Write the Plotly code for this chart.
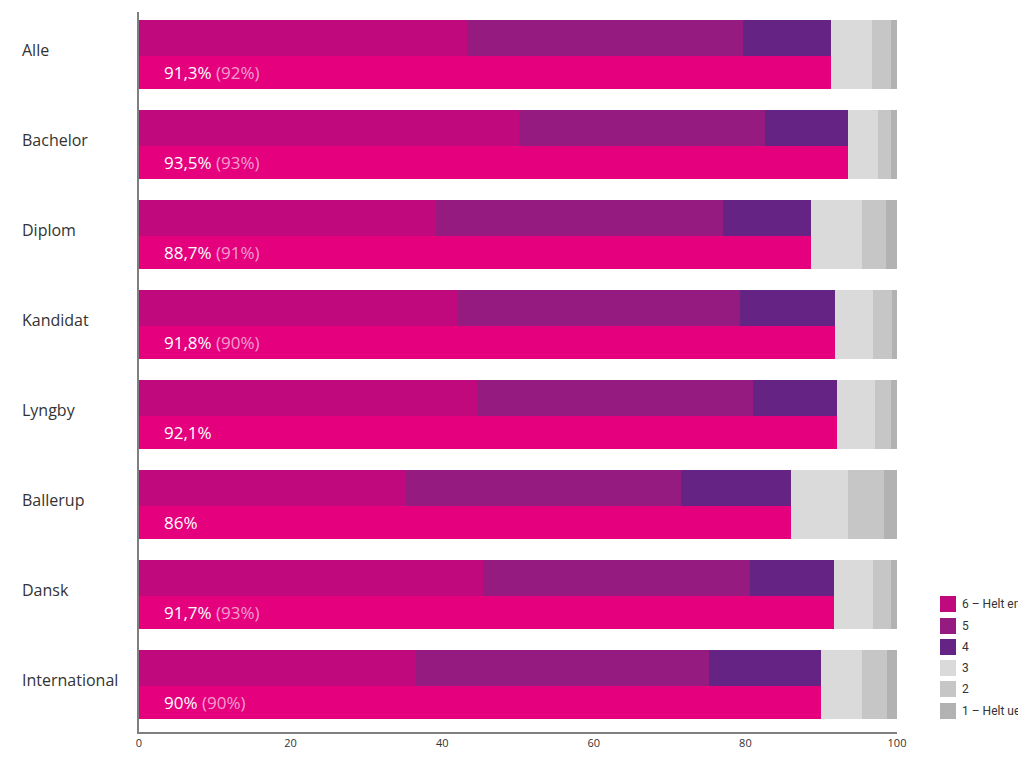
import numpy as np
import plotly.graph_objects as go

categories = ["Alle", "Bachelor", "Diplom", "Kandidat", "Lyngby", "Ballerup", "Dansk", "International"]
s6 = [43.3, 50.1, 39.2, 42.0, 44.6, 35.2, 45.4, 36.5]
s5 = [36.4, 32.5, 37.8, 37.3, 36.4, 36.3, 35.2, 38.7]
s4 = [11.6, 10.9, 11.7, 12.5, 11.1, 14.5, 11.1, 14.8]
s3 = [5.4, 4.0, 6.7, 5.0, 5.0, 7.5, 5.1, 5.4]
s2 = [2.5, 1.7, 3.1, 2.5, 2.1, 4.8, 2.4, 3.3]
s1 = [0.8, 0.8, 1.5, 0.7, 0.8, 1.7, 0.8, 1.3]
label_now = ["91,3%", "93,5%", "88,7%", "91,8%", "92,1%", "86%", "91,7%", "90%"]
label_prev = ["(92%)", "(93%)", "(91%)", "(90%)", "", "", "(93%)", "(90%)"]
legend_names = ["6 – Helt enig", "5", "4", "3", "2", "1 – Helt uenig"]
x_ticks = [0, 20, 40, 60, 80, 100]

colors = ["#C0097C", "#951B80", "#652483", "#DADADA", "#C6C6C6", "#B2B2B2"]
pink = "#E5007E"
font = "Open Sans"

# page offset (body margin) of 8px
OFF = 8
L, T = 139 - OFF, 12 - OFF
PW, PH = 758, 720
FIG_W, FIG_H = 1026 - OFF, 758 - 2 * OFF

n = len(categories)
idx = np.arange(n)
y_top = idx + 26 / 90
y_bot = idx + 60.5 / 90
y_grey = idx + 42.5 / 90
w_top = 36 / 90
w_bot = 33 / 90
w_grey = 69 / 90

segs = [np.array(s) for s in (s6, s5, s4, s3, s2, s1)]
cum = np.cumsum(segs, axis=0)
bases = np.vstack([np.zeros(n), cum[:-1]])
agree = cum[2]

fig = go.Figure()
for k in range(6):
    is_grey = k >= 3
    fig.add_trace(go.Bar(
        orientation="h",
        x=segs[k],
        base=bases[k],
        y=y_grey if is_grey else y_top,
        width=w_grey if is_grey else w_top,
        marker=dict(color=colors[k], line=dict(width=0)),
        name=legend_names[k],
        showlegend=False,
        hoverinfo="skip",
    ))
fig.add_trace(go.Bar(
    orientation="h",
    x=agree,
    base=np.zeros(n),
    y=y_bot,
    width=w_bot,
    marker=dict(color=pink, line=dict(width=0)),
    showlegend=False,
    hoverinfo="skip",
))

annotations = []
for i in range(n):
    txt = label_now[i]
    if label_prev[i]:
        txt += " <span style='color:rgba(255,255,255,0.62)'>" + label_prev[i] + "</span>"
    annotations.append(dict(
        x=3.0, y=y_bot[i], xref="x", yref="y", text=txt, showarrow=False,
        xanchor="left", yanchor="middle",
        font=dict(family=font, size=17, color="white"),
    ))
    annotations.append(dict(
        x=(20 - 139) / PW, y=idx[i] + 38 / 90, xref="paper", yref="y",
        text=categories[i], showarrow=False, xanchor="left", yanchor="middle",
        font=dict(family=font, size=16, color="#333333"),
    ))

# custom legend
shapes = []
leg_y = [604, 626, 647, 668, 689, 711]
for k in range(6):
    yc = 1 - (leg_y[k] - 12) / PH
    h = 16 / PH
    shapes.append(dict(type="rect", xref="paper", yref="paper",
                       x0=(940 - 139) / PW, x1=(956 - 139) / PW,
                       y0=yc - h / 2, y1=yc + h / 2,
                       fillcolor=colors[k], line=dict(width=0)))
    annotations.append(dict(
        x=(960 - 139) / PW, y=yc, xref="paper", yref="paper",
        text=legend_names[k], showarrow=False, xanchor="left", yanchor="middle",
        font=dict(family="Roboto", size=12, color="#333333"),
    ))

fig.update_layout(
    width=FIG_W, height=FIG_H,
    margin=dict(l=L, r=FIG_W - L - PW, t=T, b=FIG_H - T - PH, autoexpand=False),
    paper_bgcolor="white", plot_bgcolor="white",
    barmode="overlay", bargap=0,
    showlegend=False,
    annotations=annotations,
    shapes=shapes,
    font=dict(family=font, color="#333333"),
)
fig.update_xaxes(
    range=[0, 100], tickvals=x_ticks, ticktext=[str(t) for t in x_ticks],
    showgrid=False, zeroline=False, showline=True, linecolor="#7f7f7f", linewidth=1.5,
    ticks="", tickfont=dict(family=font, size=11, color="#333333"),
    fixedrange=True,
)
fig.update_yaxes(
    range=[n, 0], showgrid=False, zeroline=False, showline=True,
    linecolor="#7f7f7f", linewidth=1.5, showticklabels=False, ticks="",
    fixedrange=True,
)
fig.write_html("out.html")
